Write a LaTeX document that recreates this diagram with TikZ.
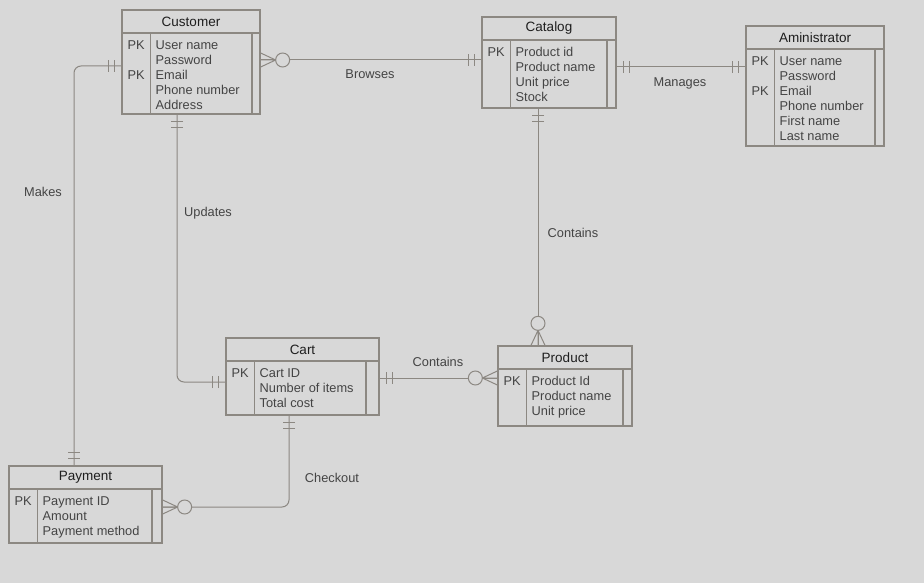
\documentclass[tikz,border=0pt]{standalone}
\usepackage{fontspec}
\setmainfont{Liberation Sans}
\usetikzlibrary{calc}
\definecolor{erbg}{HTML}{D8D8D8}
\definecolor{erline}{HTML}{8C8882}
\definecolor{ertext}{HTML}{444444}
\definecolor{ertitle}{HTML}{1E1E1E}

\newcommand\erbox[9]{%
  \node[entity,minimum width={(#4-#2)*1pt},minimum height={(#5-#3)*1pt}] (#1) at ({(#2+#4)/2},{(#3+#5)/2}) {};
  \draw[draw=erline,line width=1.2pt] (#2,#3+23) -- (#4,#3+23) (#2+28.5,#3+23) -- (#2+28.5,#5) (#4-#9,#3+23) -- (#4-#9,#5);
  \node[etitle] (#1-t) at ({(#2+#4)/2},#3+11.5) {#6};
  \node[efield] (#1-k) at (#2+5.5,#3+30) {#7};
  \node[efield] (#1-a) at (#2+33.5,#3+30) {#8};
}

\begin{document}
\begin{tikzpicture}[
  x=1pt,y=-1pt,
  entity/.style={draw=erline,line width=1.3pt,inner sep=0pt},
  etitle/.style={text=ertitle,font=\fontsize{13.5}{16}\selectfont,inner sep=0pt},
  efield/.style={text=ertext,font=\fontsize{12.8}{15}\selectfont,anchor=north west,align=left,inner sep=0pt},
  relline/.style={draw=erline,line width=1pt},
  lbl/.style={text=ertext,font=\fontsize{12.8}{15}\selectfont,inner sep=0pt},
  erone/.pic={\draw[relline] (7,-6) -- (7,6) (13,-6) -- (13,6);},
  ermany/.pic={\draw[relline] (0,-7) -- (15,0) -- (0,7) (0,0) -- (15,0);
    \draw[relline,fill=erbg] (22,0) circle[radius=7pt];}
]
\fill[erbg] (0,0) rectangle (924,583);

\erbox{cust}{122}{10}{260}{114}{Customer}{PK\\~\\PK}{User name\\Password\\Email\\Phone number\\Address}{8}
\erbox{cat}{482}{17}{616}{108}{Catalog}{PK}{Product id\\Product name\\Unit price\\Stock}{9}
\erbox{admin}{746}{26}{884}{146}{Aministrator}{PK\\~\\PK}{User name\\Password\\Email\\Phone number\\First name\\Last name}{9}
\erbox{cart}{226}{338}{379}{415}{Cart}{PK}{Cart ID\\Number of items\\Total cost}{13}
\erbox{prod}{498}{346}{632}{426}{Product}{PK}{Product Id\\Product name\\Unit price}{9}
\erbox{pay}{9}{466}{162}{543}{Payment}{PK}{Payment ID\\Amount\\Payment method}{10}

\draw[relline] (cust.east |- 0,60) -- (cat.west |- 0,60);
\draw[relline] (cat.east |- 0,67) -- (admin.west |- 0,67);
\draw[relline,rounded corners=7pt] (cust.west |- 0,66) -| (pay.north -| 74,0);
\draw[relline,rounded corners=7pt] (cust.south -| 177,0) |- (cart.west |- 0,382);
\draw[relline] (cat.south -| 538,0) -- (prod.north -| 538,0);
\draw[relline] (cart.east |- 0,378) -- (prod.west |- 0,378);
\draw[relline,rounded corners=7pt] (cart.south -| 289,0) |- (pay.east |- 0,507);

\pic at (cust.east |- 0,60) {ermany};
\pic[rotate=180] at (cat.west |- 0,60) {erone};
\pic at (cat.east |- 0,67) {erone};
\pic[rotate=180] at (admin.west |- 0,67) {erone};
\pic[rotate=180] at (cust.west |- 0,66) {erone};
\pic[rotate=90] at (pay.north -| 74,0) {erone};
\pic[rotate=-90] at (cust.south -| 177,0) {erone};
\pic[rotate=180] at (cart.west |- 0,382) {erone};
\pic[rotate=-90] at (cat.south -| 538,0) {erone};
\pic[rotate=90] at (prod.north -| 538,0) {ermany};
\pic at (cart.east |- 0,378) {erone};
\pic[rotate=180] at (prod.west |- 0,378) {ermany};
\pic[rotate=-90] at (cart.south -| 289,0) {erone};
\pic at (pay.east |- 0,507) {ermany};

\node[lbl] (browses) at (370,74) {Browses};
\node[lbl] (manages) at (680,83) {Manages};
\node[lbl] (makes) at (43,192) {Makes};
\node[lbl] (updates) at (208,213) {Updates};
\node[lbl] (contains1) at (573,233) {Contains};
\node[lbl] (contains2) at (438,362) {Contains};
\node[lbl] (checkout) at (332,478) {Checkout};
\end{tikzpicture}
\end{document}
